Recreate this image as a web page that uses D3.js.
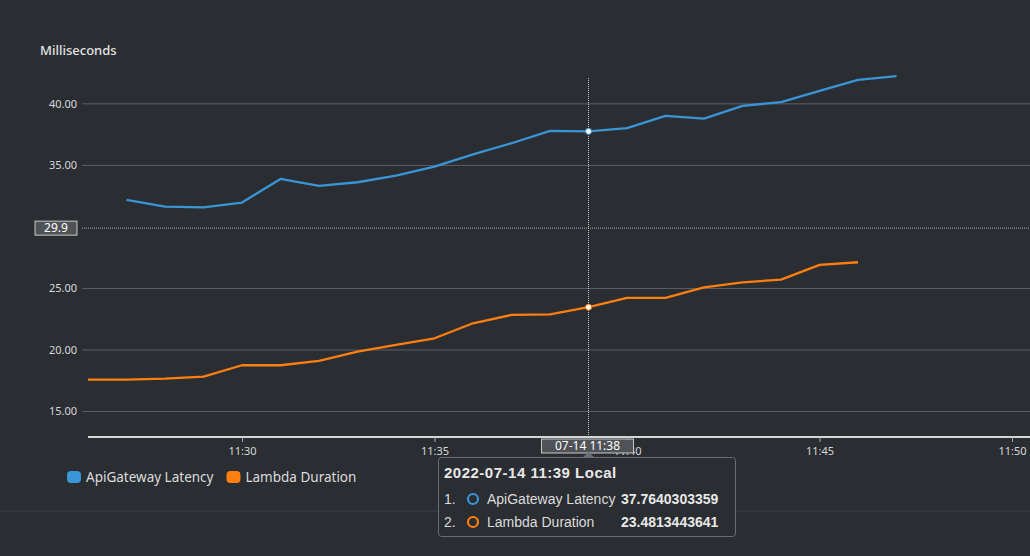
<!DOCTYPE html>
<html>
<head>
<meta charset="utf-8">
<script src="https://cdn.jsdelivr.net/npm/d3@7"></script>
<style>
  html, body { margin: 0; padding: 0; background: #2a2d32; }
  svg { display: block; }
</style>
</head>
<body>
<svg width="1030" height="556"></svg>
<script>
const svg = d3.select("svg");
const width = +svg.attr("width");
const height = +svg.attr("height");

// data, one point per minute from 11:26
const minutes = d3.range(26, 48).map(m => new Date(2022, 6, 14, 11, m));
const latency = [null, 32.2, 31.65, 31.58, 31.98, 33.9, 33.33, 33.63, 34.17, 34.9, 35.9,
                 36.8, 37.8, 37.764, 38.02, 39.02, 38.8, 39.84, 40.14, 41.06, 41.95, 42.25];
const duration = [17.59, 17.6, 17.67, 17.84, 18.76, 18.76, 19.11, 19.86, 20.41, 20.95, 22.17,
                  22.85, 22.9, 23.481, 24.23, 24.23, 25.09, 25.5, 25.72, 26.91, 27.13, null];
const seriesNames = ["ApiGateway Latency", "Lambda Duration"];
const seriesColors = ["#3a95d6", "#ff7f0e"];
const yTicks = [15, 20, 25, 30, 35, 40];
const xTicks = [30, 35, 40, 45, 50].map(m => new Date(2022, 6, 14, 11, m));
const hoverIndex = 13;
const hoverValues = ["37.7640303359", "23.4813443641"];
const hoverY = 29.9;

const x = d3.scaleTime()
    .domain([new Date(2022, 6, 14, 11, 26), new Date(2022, 6, 14, 11, 50, 28)])
    .range([88, width]);
const y = d3.scaleLinear()
    .domain([12.93, 42.1])
    .range([437, 78]);

const font = "'Noto Sans', sans-serif";
const tipFont = "'Liberation Sans', Arial, sans-serif";

// y label
svg.append("text")
    .attr("x", 40).attr("y", 55)
    .style("font-family", font).style("font-size", "13px").style("font-weight", 500)
    .style("fill", "#e4e4e4")
    .text("Milliseconds");

// grid + y tick labels (30 sits under the hover label)
svg.selectAll(".grid")
    .data(yTicks.filter(d => d !== 30))
    .join("line")
    .attr("class", "grid")
    .attr("x1", 82).attr("x2", width)
    .attr("y1", d => y(d)).attr("y2", d => y(d))
    .attr("stroke", "#5d6065")
    .attr("stroke-width", 1);

svg.selectAll(".ylab")
    .data(yTicks.filter(d => d !== 30))
    .join("text")
    .attr("class", "ylab")
    .attr("x", 77).attr("y", d => y(d))
    .attr("dy", "0.35em")
    .attr("text-anchor", "end")
    .style("font-family", font).style("font-size", "11px")
    .style("fill", "#d8d8d8")
    .text(d => d3.format(".2f")(d));

// x axis
const xAxis = svg.append("g")
    .attr("transform", `translate(0,${y.range()[0]})`)
    .call(d3.axisBottom(x).tickValues(xTicks).tickFormat(d3.timeFormat("%H:%M")).tickSize(5).tickPadding(5));
xAxis.select(".domain").attr("stroke", "#d6d6d6").attr("stroke-width", 2).attr("d", `M88,0H${width}`);
xAxis.selectAll(".tick line").attr("stroke", "#aaaaaa");
xAxis.selectAll(".tick text")
    .style("font-family", font).style("font-size", "11px").style("fill", "#d8d8d8");

// lines
const line = d3.line()
    .defined(d => d[1] != null)
    .x(d => x(d[0]))
    .y(d => y(d[1]));

[latency, duration].forEach((vals, i) => {
    svg.append("path")
        .datum(minutes.map((t, j) => [t, vals[j]]))
        .attr("fill", "none")
        .attr("stroke", seriesColors[i])
        .attr("stroke-width", 2.3)
        .attr("stroke-linejoin", "round")
        .attr("d", line);
});

// crosshair
const hx = x(minutes[hoverIndex]);
svg.append("line")
    .attr("x1", hx).attr("x2", hx).attr("y1", 78).attr("y2", 437)
    .attr("stroke", "#c8c8c8").attr("stroke-width", 1).attr("stroke-dasharray", "1,1");
svg.append("line")
    .attr("x1", 82).attr("x2", width).attr("y1", y(hoverY)).attr("y2", y(hoverY))
    .attr("stroke", "#aaaaaa").attr("stroke-width", 1).attr("stroke-dasharray", "1,1");

[latency, duration].forEach((vals, i) => {
    svg.append("circle")
        .attr("cx", hx).attr("cy", y(vals[hoverIndex]))
        .attr("r", 3)
        .attr("fill", "#ffffff")
        .attr("stroke", seriesColors[i]).attr("stroke-width", 1);
});

// y hover label
svg.append("rect")
    .attr("x", 35).attr("y", y(hoverY) - 7).attr("width", 42).attr("height", 14)
    .attr("fill", "#4f5257").attr("stroke", "#c8c8c8").attr("stroke-width", 1);
svg.append("text")
    .attr("x", 56).attr("y", y(hoverY)).attr("dy", "0.36em")
    .attr("text-anchor", "middle")
    .style("font-family", font).style("font-size", "12px").style("fill", "#ffffff")
    .text(d3.format(".1f")(hoverY));

// x hover label
svg.append("rect")
    .attr("x", hx - 47).attr("y", 439).attr("width", 92).attr("height", 14)
    .attr("fill", "#4f5257").attr("stroke", "#c8c8c8").attr("stroke-width", 1);
svg.append("text")
    .attr("x", hx - 1).attr("y", 446).attr("dy", "0.36em")
    .attr("text-anchor", "middle")
    .style("font-family", font).style("font-size", "12px").style("fill", "#ffffff")
    .text(d3.timeFormat("%m-%d %H:%M")(minutes[hoverIndex - 1]));

// separator under the chart
svg.append("line")
    .attr("x1", 0).attr("x2", width).attr("y1", 511).attr("y2", 511)
    .attr("stroke", "#3d4046");

// legend
const legend = svg.append("g").attr("transform", "translate(67,477)");
let lx = 0;
seriesNames.forEach((name, i) => {
    const g = legend.append("g").attr("transform", `translate(${lx},0)`);
    g.append("rect")
        .attr("x", 0).attr("y", -6).attr("width", 14).attr("height", 12).attr("rx", 4)
        .attr("fill", seriesColors[i]);
    const t = g.append("text")
        .attr("x", 19).attr("dy", "0.35em")
        .style("font-family", font).style("font-size", "13.5px").style("fill", "#dcdcdc")
        .text(name);
    lx += 19 + t.node().getComputedTextLength() + 13;
});

// tooltip
const tip = svg.append("g").attr("transform", "translate(438,457)");
tip.append("rect")
    .attr("x", 0.5).attr("y", 0.5).attr("width", 297).attr("height", 79).attr("rx", 3)
    .attr("fill", "#2a2d32").attr("stroke", "#6a6d72");
tip.append("path")
    .attr("d", `M${hx - 438 - 6},0.5L${hx - 438},-5L${hx - 438 + 6},0.5Z`)
    .attr("fill", "#6a6d72");
tip.append("text")
    .attr("x", 6).attr("y", 21)
    .style("font-family", tipFont).style("font-size", "15px").style("font-weight", "bold")
    .style("letter-spacing", "0.5px")
    .style("fill", "#e8e8e8")
    .text(d3.timeFormat("%Y-%m-%d %H:%M")(minutes[hoverIndex]) + " Local");

seriesNames.forEach((name, i) => {
    const ry = 42 + i * 23;
    tip.append("text")
        .attr("x", 6).attr("y", ry).attr("dy", "0.35em")
        .style("font-family", tipFont).style("font-size", "14px").style("fill", "#dcdcdc")
        .text(`${i + 1}.`);
    tip.append("circle")
        .attr("cx", 35).attr("cy", ry).attr("r", 5)
        .attr("fill", "none").attr("stroke", seriesColors[i]).attr("stroke-width", 2.2);
    tip.append("text")
        .attr("x", 49).attr("y", ry).attr("dy", "0.35em")
        .style("font-family", tipFont).style("font-size", "14px").style("fill", "#dcdcdc")
        .text(name);
    tip.append("text")
        .attr("x", 183).attr("y", ry).attr("dy", "0.35em")
        .style("font-family", tipFont).style("font-size", "14px").style("font-weight", "bold")
        .style("fill", "#e8e8e8")
        .text(hoverValues[i]);
});
</script>
</body>
</html>
